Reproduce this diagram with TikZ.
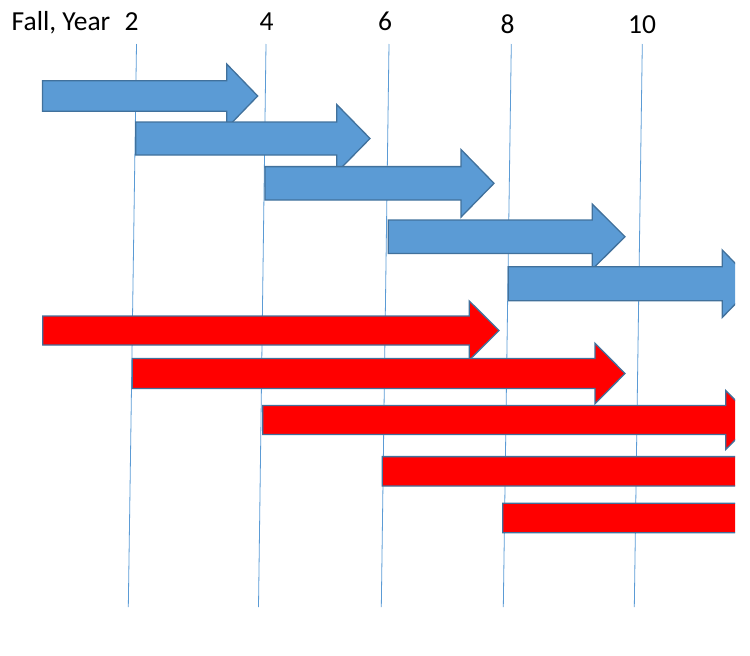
\documentclass[tikz,border=0pt]{standalone}
\usepackage{fontspec}
\setmainfont{Carlito}
\usepackage{tikz}

\definecolor{gridblue}{HTML}{5B9BD5}
\definecolor{edgeblue}{HTML}{41719C}
\tikzset{
  gridline/.style = {draw=gridblue, line width=0.8pt},
  yearlabel/.style = {anchor=base, inner sep=0pt, font=\fontsize{27.5}{32}\selectfont},
  bluearrow/.style = {fill=gridblue, draw=edgeblue, line width=1.3pt, line join=miter},
  redarrow/.style = {fill=red, draw=edgeblue, line width=1.3pt, line join=miter}
}
% #1 style, #2 tail, #3 head start, #4 tip, #5 centre, #6 half body, #7 half head
\newcommand{\timearrow}[7]{%
  \draw[#1] (#2,#5-#6) -- (#3,#5-#6) -- (#3,#5-#7) -- (#4,#5)
    -- (#3,#5+#7) -- (#3,#5+#6) -- (#2,#5+#6) -- cycle;}

\begin{document}
\begin{tikzpicture}[x=1pt, y=-1pt]
        \useasboundingbox (0,0) rectangle (750,656);

        \node[yearlabel, anchor=base west] (fall) at (11.5,30) {Fall, Year};
        \node[yearlabel] (y2) at (131.5,30) {2};
        \node[yearlabel] (y4) at (266.5,30) {4};
        \node[yearlabel] (y6) at (385,30) {6};
        \node[yearlabel] (y8) at (507.5,33) {8};
        \node[yearlabel] (y10) at (642,33) {10};

        \coordinate (t2) at (136.5,44);
        \coordinate (t4) at (266,44);
        \coordinate (t6) at (389,44);
        \coordinate (t8) at (511.3,44);
        \coordinate (t10) at (642.3,44);
        \coordinate (b2) at (128.3,607);
        \coordinate (b4) at (258.5,607);
        \coordinate (b6) at (381.3,607);
        \coordinate (b8) at (503.3,607);
        \coordinate (b10) at (634.3,607);

        \draw[gridline] (t2) -- (b2) (t4) -- (b4) (t6) -- (b6);
        \draw[gridline] (t8) -- (b8) (t10) -- (b10);

        \begin{scope}
        \clip (0,0) rectangle (735,656);
        % blue arrows
        \timearrow{bluearrow}{42.5}{226.7}{257.7}{96}{15.3}{32}
        \timearrow{bluearrow}{135.7}{336.7}{370}{138.5}{16.5}{34}
        \timearrow{bluearrow}{265}{461}{494}{183.3}{16.7}{33.8}
        \timearrow{bluearrow}{388.3}{592.3}{625}{236.7}{16.7}{32.5}
        \timearrow{bluearrow}{508.3}{722.3}{755}{283.7}{17}{33.7}
        % red arrows
        \timearrow{redarrow}{42.7}{469.3}{499}{330.5}{14.5}{29.5}
        \timearrow{redarrow}{132.3}{595}{625}{373.5}{15}{30.3}
        \timearrow{redarrow}{262.7}{725.7}{755}{420}{14.5}{29.5}
        \timearrow{redarrow}{382.3}{760}{790}{471.3}{14.7}{30}
        \timearrow{redarrow}{502.7}{760}{790}{518}{14.7}{30}
        \end{scope}
    \end{tikzpicture}
\end{document}
